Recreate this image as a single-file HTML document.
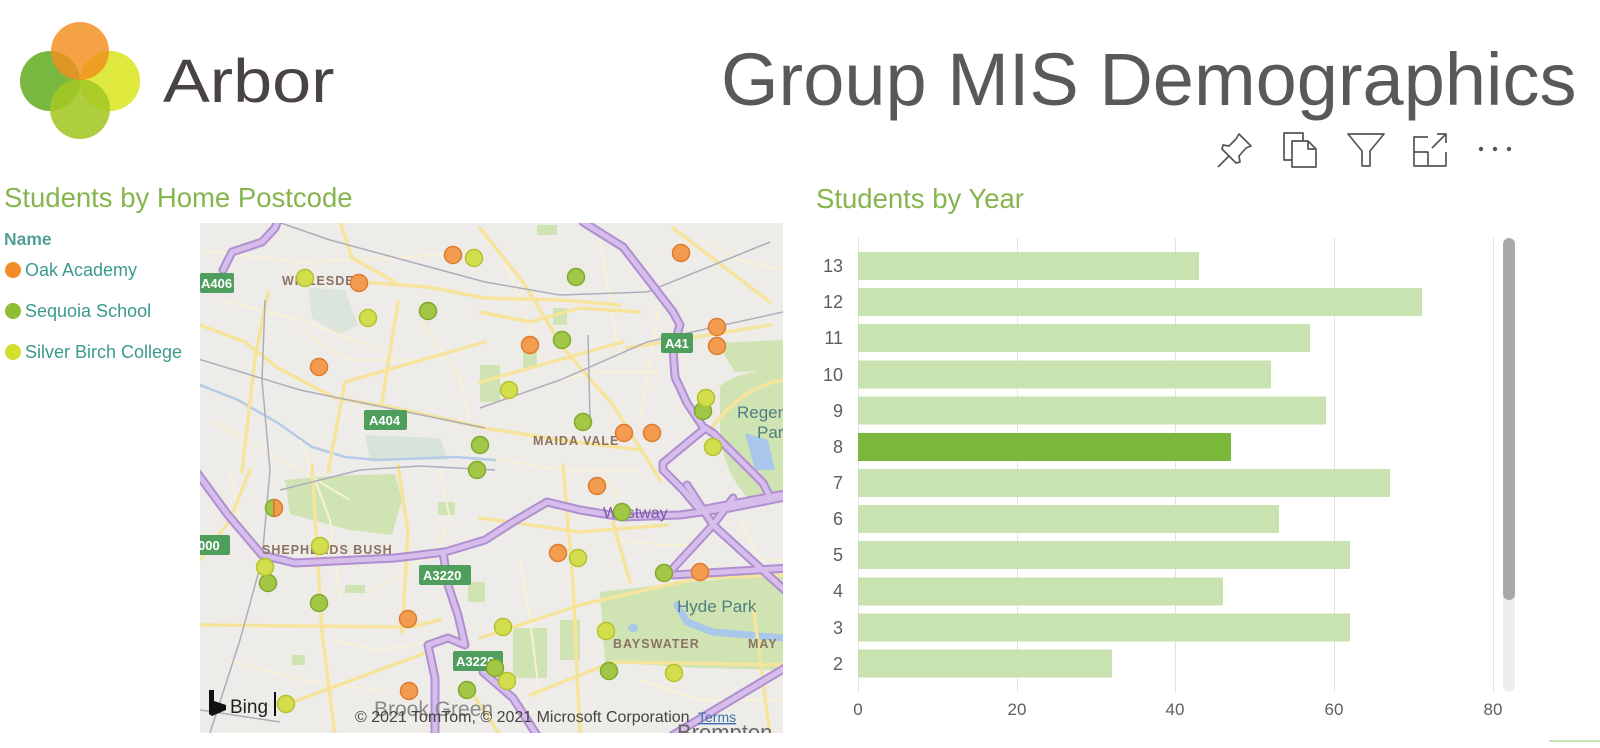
<!DOCTYPE html>
<html><head><meta charset="utf-8"><style>
html,body{margin:0;padding:0;background:#fff;}
svg{display:block;}
text{font-family:"Liberation Sans",sans-serif;}
</style></head><body>
<svg width="1600" height="748" viewBox="0 0 1600 748" xmlns="http://www.w3.org/2000/svg">
<defs>
<clipPath id="mc"><rect x="200" y="223" width="583" height="510"/></clipPath>
</defs>
<rect width="1600" height="748" fill="#fff"/>

<!-- Logo -->
<g>
<circle cx="50" cy="81" r="30" fill="#72b436" opacity="0.95"/>
<circle cx="110" cy="81" r="30" fill="#dbe62c" opacity="0.92"/>
<circle cx="80" cy="109" r="30" fill="#a4c723" opacity="0.88"/>
<circle cx="80" cy="51" r="29" fill="#f38d1e" opacity="0.82"/>
</g>
<text x="163" y="102" font-size="61" fill="#4a4344" transform="translate(163 0) scale(1.15 1) translate(-163 0)">Arbor</text>

<!-- Title -->
<text x="721" y="105" font-size="74" fill="#595959">Group MIS Demographics</text>

<!-- Icons -->
<g fill="none" stroke="#555" stroke-width="1.7" stroke-linejoin="round">
<path d="M1218,167 L1229,156"/>
<path d="M1239,134 L1251,146 L1246,148 L1239,156 L1240,162 L1236,163 L1222,149 L1223,145 L1229,146 L1236,139 Z"/>
<path d="M1292,160 L1284,160 L1284,133 L1303,133 L1303,141"/>
<path d="M1292,141 L1308,141 L1316,149 L1316,167 L1292,167 Z M1308,141 L1308,149 L1316,149"/>
<path d="M1348,134 L1384,134 L1370,151 L1370,166 L1362,166 L1362,151 Z"/>
<path d="M1428,137 L1414,137 L1414,166 L1446,166 L1446,152 M1414,152 L1428,152 L1428,166 M1432,148 L1446,134 M1437,134 L1446,134 L1446,143"/>
</g>
<g fill="#555"><circle cx="1481" cy="149" r="2.2"/><circle cx="1495" cy="149" r="2.2"/><circle cx="1509" cy="149" r="2.2"/></g>

<!-- Section titles -->
<text x="4" y="207" font-size="27.5" fill="#86b54f">Students by Home Postcode</text>
<text x="816" y="208" font-size="27.5" fill="#86b54f">Students by Year</text>

<!-- Legend -->
<text x="4" y="245" font-size="17.5" font-weight="bold" fill="#3f968b" opacity="0.9">Name</text>
<circle cx="13" cy="270" r="8" fill="#f28c28"/>
<text x="25" y="276" font-size="18" fill="#3a9b8c">Oak Academy</text>
<circle cx="13" cy="311" r="8" fill="#8fbe32"/>
<text x="25" y="317" font-size="18" fill="#3a9b8c">Sequoia School</text>
<circle cx="13" cy="352" r="8" fill="#d3dd2e"/>
<text x="25" y="358" font-size="18" fill="#3a9b8c">Silver Birch College</text>

<!-- MAP -->
<g clip-path="url(#mc)">
<rect x="200" y="223" width="583" height="510" fill="#eeece8"/>
<!-- parks -->
<g fill="#cfe3b3">
<polygon points="308,288 345,290 358,325 340,335 312,318" fill="#dce5dc"/>
<polygon points="285,480 330,476 395,474 402,500 392,535 350,530 320,522 290,514"/>
<polygon points="600,592 667,584 783,574 783,670 700,668 605,662"/>
<path d="M720,386 Q735,372 783,368 L783,500 L748,498 Q722,470 720,430 Z"/>
<polygon points="717,343 783,340 783,370 735,372"/>
<rect x="523" y="338" width="14" height="30"/>
<rect x="480" y="365" width="20" height="37"/>
<rect x="513" y="628" width="34" height="50"/>
<polygon points="365,435 440,438 448,460 370,460" fill="#d8e3da"/>
<rect x="345" y="585" width="20" height="8"/>
<rect x="438" y="502" width="17" height="13"/>
<rect x="292" y="655" width="13" height="10"/>
<rect x="468" y="582" width="17" height="20"/>
<rect x="537" y="225" width="20" height="10"/>
<rect x="553" y="308" width="14" height="17"/>
<rect x="640" y="640" width="30" height="20"/>
<rect x="560" y="620" width="20" height="40"/>
</g>
<!-- water -->
<g fill="none" stroke="#a9c7ea" stroke-linecap="round">
<path d="M677,605 L687,622 L713,632 L783,638" stroke-width="7"/>
<path d="M195,383 L238,400 L278,423 L312,447 L345,457 L378,460 L455,457 L495,460" stroke-width="2.5" stroke="#b6cbe6"/>
</g>
<ellipse cx="633" cy="628" rx="5" ry="4" fill="#a9c7ea"/>
<path d="M745,433 L768,440 L775,470 L755,470 Z" fill="#a9c7ea"/>
<!-- minor roads -->
<g fill="none" stroke="#f8f1d6" stroke-width="2">
<path d="M200,250 L300,262 L400,258 L480,250"/>
<path d="M220,300 L300,320 L380,350"/>
<path d="M210,420 L300,470 L350,500"/>
<path d="M300,440 L330,520 L340,600"/>
<path d="M360,600 L420,560 L470,540"/>
<path d="M230,660 L300,680 L380,690"/>
<path d="M500,250 L520,300 L540,360"/>
<path d="M600,240 L610,300 L620,360"/>
<path d="M660,300 L650,360 L640,420"/>
<path d="M500,460 L560,470 L640,470"/>
<path d="M520,560 L530,620 L540,700"/>
<path d="M620,540 L660,545 L700,545"/>
<path d="M640,680 L700,700 L780,700"/>
<path d="M700,240 L740,260 L783,270"/>
<path d="M420,320 L460,380 L470,420"/>
<path d="M230,470 L240,520"/>
<path d="M440,470 L450,520 L430,560"/>
<path d="M300,330 L350,360 L420,360"/>
<path d="M560,380 L600,372 L660,372"/>
<path d="M600,470 L620,500"/>
<path d="M740,520 L760,560 L783,560"/>
<path d="M330,640 L380,650 L440,640"/>
</g>
<!-- yellow roads -->
<g fill="none" stroke="#f6e49c" stroke-width="3.5" stroke-linejoin="round" stroke-linecap="round">
<path d="M200,325 L245,342 L278,368 L335,398 L395,408 L485,428 L560,440 L640,450"/>
<path d="M362,282 L428,287 L485,298 L560,300 L620,305"/>
<path d="M480,228 L523,282 L563,348 L613,405 L640,448 L660,480"/>
<path d="M200,625 L300,626 L410,627 L440,620"/>
<path d="M480,638 L580,605 L667,585 L700,578 L783,575"/>
<path d="M530,695 L613,662 L783,665"/>
<path d="M312,465 L322,632 L335,735"/>
<path d="M398,465 L408,532 L402,632"/>
<path d="M673,228 L770,302"/>
<path d="M480,312 L530,322 L580,308 L640,312"/>
<path d="M338,215 L352,258 L395,282"/>
<path d="M268,292 L255,358 L242,472"/>
<path d="M485,342 L345,382 L328,472"/>
<path d="M398,302 L382,402"/>
<path d="M480,518 L580,532 L667,525"/>
<path d="M563,465 L573,582 L580,735"/>
<path d="M613,522 L630,582"/>
<path d="M753,605 L770,735"/>
<path d="M627,348 L770,325"/>
<path d="M480,382 L623,342"/>
<path d="M285,705 L428,652"/>
<path d="M710,430 Q740,388 783,380"/>
<path d="M200,560 L230,520 L250,470"/>
<path d="M470,690 L500,735"/>
</g>
<!-- rail -->
<g fill="none" stroke="#adadbb" stroke-width="1.5">
<path d="M278,222 L330,240 L485,282 L560,295 L647,292 L770,242"/>
<path d="M195,358 L300,390 L485,428"/>
<path d="M265,300 L262,380 L270,470 L262,560 L240,640 L210,733"/>
<path d="M480,408 L560,380 L647,342 L783,312"/>
<path d="M280,490 L360,470 L420,466 L495,470"/>
<path d="M200,710 L280,722"/>
<path d="M588,335 L590,420"/>
</g>
<!-- purple motorways -->
<g fill="none" stroke="#b08fd0" stroke-width="9" stroke-linejoin="round" stroke-linecap="round">
<path d="M223,270 L232,252 L262,242 L275,228 L280,215"/>
<path d="M583,222 L623,247 L647,278 L673,312 L680,325 L673,348 L675,377 L687,403 L703,427 L713,433 L740,460 L763,483 L770,497 L790,493"/>
<path d="M703,430 L663,463 L663,470 L683,490 L700,510 L790,493"/>
<path d="M195,470 L228,515 L262,555 L295,563 L395,558 L445,552 L485,540 L513,522 L547,502 L580,510 L623,517 L680,515 L730,508 L790,496"/>
<path d="M443,552 L448,585 L458,615 L465,645 L448,638 L428,645 L435,678 L435,740"/>
<path d="M483,672 L513,698 L540,740"/>
<path d="M687,485 L713,525 L790,595"/>
<path d="M667,575 L713,525 L733,498"/>
<path d="M673,575 L790,568"/>
<path d="M673,735 L790,665"/>
</g>
<g fill="none" stroke="#d6bdec" stroke-width="5" stroke-linejoin="round" stroke-linecap="round">
<path d="M223,270 L232,252 L262,242 L275,228 L280,215"/>
<path d="M583,222 L623,247 L647,278 L673,312 L680,325 L673,348 L675,377 L687,403 L703,427 L713,433 L740,460 L763,483 L770,497 L790,493"/>
<path d="M703,430 L663,463 L663,470 L683,490 L700,510 L790,493"/>
<path d="M195,470 L228,515 L262,555 L295,563 L395,558 L445,552 L485,540 L513,522 L547,502 L580,510 L623,517 L680,515 L730,508 L790,496"/>
<path d="M443,552 L448,585 L458,615 L465,645 L448,638 L428,645 L435,678 L435,740"/>
<path d="M483,672 L513,698 L540,740"/>
<path d="M687,485 L713,525 L790,595"/>
<path d="M667,575 L713,525 L733,498"/>
<path d="M673,575 L790,568"/>
<path d="M673,735 L790,665"/>
</g>
<!-- road shields -->
<g fill="#4f9e5e">
<rect x="200" y="273" width="34" height="20" rx="2"/>
<rect x="364" y="410" width="43" height="20" rx="2"/>
<rect x="661" y="333" width="32" height="20" rx="2"/>
<rect x="196" y="535" width="34" height="20" rx="2"/>
<rect x="419" y="565" width="52" height="20" rx="2"/>
<rect x="453" y="651" width="50" height="20" rx="2"/>
</g>
<g fill="#fff" font-size="13" font-weight="bold">
<text x="201" y="288">A406</text>
<text x="369" y="425">A404</text>
<text x="665" y="348">A41</text>
<text x="198" y="550">000</text>
<text x="423" y="580">A3220</text>
<text x="456" y="666">A3220</text>
</g>
<!-- place labels -->
<g fill="#8c7263" font-size="12.5" font-weight="bold" letter-spacing="1">
<text x="282" y="285">WILLESDEN</text>
<text x="533" y="445">MAIDA VALE</text>
<text x="262" y="554">SHEPHERDS BUSH</text>
<text x="613" y="648">BAYSWATER</text>
<text x="748" y="648">MAY</text>
</g>
<g fill="#4f7f80" font-size="17">
<text x="677" y="612">Hyde Park</text>
<text x="737" y="418">Regent's</text>
<text x="757" y="438">Park</text>
</g>
<text x="603" y="518" font-size="16" fill="#7b5aa6">Westway</text>
<text x="374" y="716" font-size="21" fill="#8a8a8a">Brook Green</text>
<text x="677" y="740" font-size="22" fill="#666">Brompton</text>

<!-- dots -->
<g stroke-width="1.5">
<g fill="#f39c50" stroke="#de7b2e">
<circle cx="453" cy="255" r="8.5"/><circle cx="359" cy="283" r="8.5"/><circle cx="319" cy="367" r="8.5"/>
<circle cx="681" cy="253" r="8.5"/><circle cx="530" cy="345" r="8.5"/><circle cx="717" cy="327" r="8.5"/>
<circle cx="717" cy="346" r="8.5"/><circle cx="624" cy="433" r="8.5"/><circle cx="652" cy="433" r="8.5"/>
<circle cx="408" cy="619" r="8.5"/><circle cx="409" cy="691" r="8.5"/><circle cx="597" cy="486" r="8.5"/>
<circle cx="558" cy="553" r="8.5"/><circle cx="700" cy="572" r="8.5"/>
</g>
<g fill="#a2c646" stroke="#82a92c">
<circle cx="428" cy="311" r="8.5"/><circle cx="480" cy="445" r="8.5"/><circle cx="477" cy="470" r="8.5"/>
<circle cx="576" cy="277" r="8.5"/><circle cx="562" cy="340" r="8.5"/><circle cx="703" cy="411" r="8.5"/>
<circle cx="583" cy="422" r="8.5"/><circle cx="268" cy="583" r="8.5"/><circle cx="319" cy="603" r="8.5"/>
<circle cx="467" cy="690" r="8.5"/><circle cx="622" cy="512" r="8.5"/><circle cx="664" cy="573" r="8.5"/>
<circle cx="495" cy="668" r="8.5"/><circle cx="609" cy="671" r="8.5"/>
</g>
<g fill="#d2de4c" stroke="#b4c12f">
<circle cx="474" cy="258" r="8.5"/><circle cx="305" cy="278" r="8.5"/><circle cx="368" cy="318" r="8.5"/>
<circle cx="509" cy="390" r="8.5"/><circle cx="706" cy="398" r="8.5"/><circle cx="713" cy="447" r="8.5"/>
<circle cx="320" cy="546" r="8.5"/><circle cx="265" cy="567" r="8.5"/><circle cx="286" cy="704" r="8.5"/>
<circle cx="578" cy="558" r="8.5"/><circle cx="503" cy="627" r="8.5"/><circle cx="606" cy="631" r="8.5"/>
<circle cx="507" cy="681" r="8.5"/><circle cx="674" cy="673" r="8.5"/>
</g>
<path d="M274,499.5 A8.5,8.5 0 0 0 274,516.5 Z" fill="#a2c646" stroke="#82a92c"/>
<path d="M274,499.5 A8.5,8.5 0 0 1 274,516.5 Z" fill="#f39c50" stroke="#de7b2e"/>
</g>
<!-- Bing -->
<path d="M209,690 L214,690 L214,701 L226,705 L226,710 L212,716 L209,714 Z" fill="#111"/>
<text x="230" y="713" font-size="19" fill="#222">Bing</text>
<rect x="274" y="692" width="2" height="24" fill="#111"/>
<text x="355" y="722" font-size="16" fill="#444">© 2021 TomTom, © 2021 Microsoft Corporation</text>
<text x="698" y="722" font-size="14" fill="#3d6fb0" text-decoration="underline">Terms</text>
</g>

<!-- BAR CHART -->
<g stroke="#e2e2e2" stroke-width="1">
<line x1="858.5" y1="238" x2="858.5" y2="692"/>
<line x1="1017.5" y1="238" x2="1017.5" y2="692"/>
<line x1="1175.5" y1="238" x2="1175.5" y2="692"/>
<line x1="1334.5" y1="238" x2="1334.5" y2="692"/>
<line x1="1493.5" y1="238" x2="1493.5" y2="692"/>
</g>
<g fill="#c8e2b0">
<rect x="858" y="252" width="341" height="28"/>
<rect x="858" y="288" width="564" height="28"/>
<rect x="858" y="324" width="452" height="28"/>
<rect x="858" y="360.5" width="413" height="28"/>
<rect x="858" y="396.5" width="468" height="28"/>
<rect x="858" y="469" width="532" height="28"/>
<rect x="858" y="505" width="421" height="28"/>
<rect x="858" y="541" width="492" height="28"/>
<rect x="858" y="577.5" width="365" height="28"/>
<rect x="858" y="613.5" width="492" height="28"/>
<rect x="858" y="649.5" width="254" height="28"/>
</g>
<rect x="858" y="433" width="373" height="28" fill="#7ab73a"/>
<g font-size="18" fill="#605e5c" text-anchor="end">
<text x="843" y="272">13</text>
<text x="843" y="308">12</text>
<text x="843" y="344">11</text>
<text x="843" y="381">10</text>
<text x="843" y="417">9</text>
<text x="843" y="453">8</text>
<text x="843" y="489">7</text>
<text x="843" y="525">6</text>
<text x="843" y="561">5</text>
<text x="843" y="597">4</text>
<text x="843" y="634">3</text>
<text x="843" y="670">2</text>
</g>
<g font-size="17" fill="#605e5c" text-anchor="middle">
<text x="858" y="715">0</text>
<text x="1017" y="715">20</text>
<text x="1175" y="715">40</text>
<text x="1334" y="715">60</text>
<text x="1493" y="715">80</text>
</g>
<!-- scrollbar -->
<rect x="1503" y="238" width="12" height="454" rx="6" fill="#eeeeee"/>
<rect x="1503" y="238" width="12" height="362" rx="6" fill="#a9a9a9"/>
<rect x="1549" y="740" width="51" height="2" fill="#c9e5b3"/>
</svg>
</body></html>
